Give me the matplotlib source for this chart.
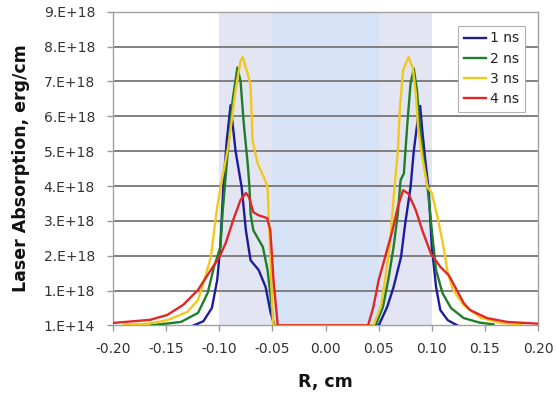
import matplotlib
matplotlib.use("Agg")
import matplotlib.pyplot as plt

# ---- data (y in units of 1e18 erg/cm; 0 corresponds to the 1.E+14 floor) ----
x_1ns = [-0.124, -0.115, -0.107, -0.102, -0.099, -0.096, -0.093, -0.0894, -0.0847, -0.079, -0.075,
         -0.0706, -0.063, -0.0564, -0.0517, -0.048, 0.0, 0.050, 0.058, 0.064, 0.071, 0.075, 0.080,
         0.083, 0.0875, 0.089, 0.091, 0.094, 0.097, 0.100, 0.104, 0.108, 0.115, 0.124]
y_1ns = [0.0, 0.12, 0.5, 1.3, 2.3, 4.1, 5.3, 6.32, 5.0, 3.97, 2.73,
         1.87, 1.59, 1.1, 0.36, 0.0, 0.0, 0.0, 0.53, 1.1, 1.96, 2.93, 3.97,
         5.0, 6.08, 6.3, 5.6, 4.7, 3.9, 2.25, 1.1, 0.44, 0.15, 0.0]

x_2ns = [-0.165, -0.136, -0.120, -0.111, -0.105, -0.099, -0.097, -0.092, -0.0875, -0.083, -0.080,
         -0.077, -0.073, -0.0715, -0.0706, -0.068, -0.059, -0.0546, -0.0517, -0.049, 0.0, 0.047,
         0.054, 0.059, 0.064, 0.068, 0.0706, 0.0737, 0.077, 0.080, 0.083, 0.086, 0.0885, 0.092,
         0.096, 0.100, 0.104, 0.110, 0.118, 0.130, 0.145, 0.158]
y_2ns = [0.0, 0.1, 0.36, 0.93, 1.68, 2.25, 3.2, 5.0, 6.46, 7.4, 7.0,
         5.8, 4.54, 3.9, 3.2, 2.73, 2.25, 1.59, 0.82, 0.0, 0.0, 0.0,
         0.53, 1.3, 2.25, 3.2, 4.17, 4.36, 5.8, 6.94, 7.37, 6.75, 5.8, 4.83,
         3.97, 2.73, 1.59, 0.93, 0.5, 0.21, 0.08, 0.03]

x_3ns = [-0.19, -0.167, -0.149, -0.130, -0.120, -0.115, -0.108, -0.102, -0.098, -0.0912, -0.0847,
         -0.080, -0.078, -0.0734, -0.0706, -0.0687, -0.064, -0.058, -0.0546, -0.0536, -0.0517,
         -0.0499, -0.049, 0.0, 0.045, 0.052, 0.056, 0.061, 0.064, 0.068, 0.070, 0.073, 0.078,
         0.082, 0.085, 0.087, 0.091, 0.096, 0.100, 0.106, 0.111, 0.115, 0.120, 0.130, 0.146,
         0.165, 0.185]
y_3ns = [0.02, 0.05, 0.15, 0.39, 0.73, 1.2, 1.96, 3.4, 4.1, 5.2, 6.75,
         7.6, 7.7, 7.23, 6.9, 5.3, 4.65, 4.25, 3.97, 3.2, 1.79,
         0.36, 0.0, 0.0, 0.0, 0.53, 1.3, 2.45, 3.68, 5.0, 6.27, 7.32, 7.7,
         7.4, 6.65, 5.7, 4.83, 3.97, 3.8, 3.02, 2.25, 1.5, 1.02, 0.58, 0.22,
         0.07, 0.03]

x_4ns = [-0.200, -0.165, -0.149, -0.134, -0.120, -0.108, -0.100, -0.094, -0.087, -0.080, -0.075,
         -0.072, -0.068, -0.063, -0.055, -0.052, -0.049, -0.045, 0.040, 0.045, 0.050, 0.056,
         0.063, 0.068, 0.073, 0.078, 0.085, 0.091, 0.099, 0.108, 0.116, 0.122, 0.130, 0.136,
         0.152, 0.171, 0.200]
y_4ns = [0.07, 0.16, 0.3, 0.59, 1.02, 1.59, 1.96, 2.36, 3.02, 3.6, 3.8,
         3.68, 3.25, 3.16, 3.08, 2.73, 1.3, 0.0, 0.0, 0.53, 1.3, 1.96,
         2.73, 3.4, 3.88, 3.78, 3.3, 2.73, 2.07, 1.68, 1.44, 1.1, 0.64, 0.44,
         0.21, 0.1, 0.05]

series_labels = ["1 ns", "2 ns", "3 ns", "4 ns"]
series_colors = ["#1C1C9E", "#1E7E2A", "#F2C81E", "#E02828"]

x_ticks = [-0.20, -0.15, -0.10, -0.05, 0.00, 0.05, 0.10, 0.15, 0.20]
x_ticklabels = ["-0.20", "-0.15", "-0.10", "-0.05", "0.00", "0.05", "0.10", "0.15", "0.20"]
y_ticks = [0, 1, 2, 3, 4, 5, 6, 7, 8, 9]
y_ticklabels = ["1.E+14", "1.E+18", "2.E+18", "3.E+18", "4.E+18", "5.E+18",
                "6.E+18", "7.E+18", "8.E+18", "9.E+18"]

# shaded bands (x ranges)
bands = [(-0.10, -0.05, "#E3E5F3"), (-0.05, 0.05, "#D6E2F5"), (0.05, 0.10, "#E3E5F3")]

fig = plt.figure(figsize=(5.57, 3.93), dpi=100)
ax = fig.add_axes([0.203, 0.172, 0.763, 0.798])

for x0, x1, c in bands:
    ax.axvspan(x0, x1, color=c, zorder=0, lw=0)

for yt in y_ticks[1:]:
    ax.axhline(yt, color="#7F7F7F", lw=1.4, zorder=1)

xs = [x_1ns, x_2ns, x_3ns, x_4ns]
ys = [y_1ns, y_2ns, y_3ns, y_4ns]
for xv, yv, lab, col in zip(xs, ys, series_labels, series_colors):
    ax.plot(xv, yv, color=col, lw=1.7, label=lab, zorder=3, solid_joinstyle="round")

ax.set_xlim(-0.20, 0.20)
ax.set_ylim(0, 9)
ax.set_xticks(x_ticks)
ax.set_xticklabels(x_ticklabels)
ax.set_yticks(y_ticks)
ax.set_yticklabels(y_ticklabels)
ax.tick_params(axis="both", direction="out", length=4, width=1, color="#999999",
               labelsize=10, labelcolor="#333333")
ax.tick_params(axis="x", pad=8)
ax.tick_params(axis="y", pad=9)
for s in ax.spines.values():
    s.set_color("#A0A0A0")
    s.set_linewidth(1.0)

ax.set_xlabel("R, cm", fontsize=12.5, fontweight="bold", color="#111111")
ax.xaxis.set_label_coords(0.5, -0.152)
ax.set_ylabel("Laser Absorption, erg/cm", fontsize=12.5, fontweight="bold", color="#111111")
ax.yaxis.set_label_coords(-0.195, 0.5)

leg = ax.legend(loc="upper left", bbox_to_anchor=(0.812, 0.955), fontsize=10,
                frameon=True, fancybox=False, handlelength=1.6, handletextpad=0.3,
                labelspacing=0.45, borderpad=0.4, borderaxespad=0)
leg.get_frame().set_edgecolor("#B0B0B0")
leg.get_frame().set_facecolor("white")
leg.get_frame().set_alpha(1)
leg.get_frame().set_linewidth(0.8)
for t in leg.get_texts():
    t.set_color("#222222")

fig.savefig("out.png", dpi=100)
